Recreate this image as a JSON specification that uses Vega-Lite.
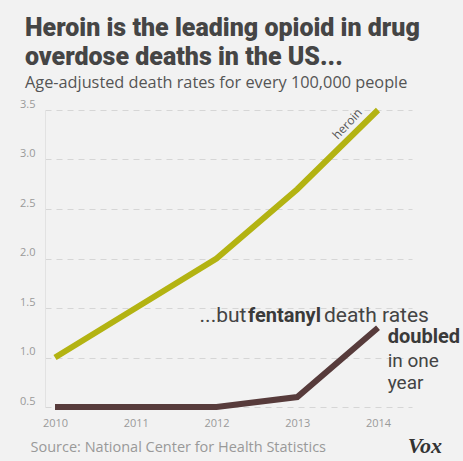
{
  "$schema": "https://vega.github.io/schema/vega-lite/v6.json",
  "width": 367,
  "height": 297,
  "autosize": "none",
  "padding": {"left": 45, "top": 110, "right": 51, "bottom": 54},
  "background": "#f2f2f2",
  "config": {"view": {"stroke": null}, "font": "Open Sans"},
  "title": {
    "text": ["Heroin is the leading opioid in drug", "overdose deaths in the US..."],
    "subtitle": "Age-adjusted death rates for every 100,000 people",
    "anchor": "start",
    "frame": "group",
    "dx": -20,
    "offset": 7,
    "font": "Roboto",
    "fontSize": 25,
    "fontWeight": 900,
    "color": "#454545",
    "lineHeight": 29,
    "subtitleFont": "Open Sans",
    "subtitleFontSize": 16.3,
    "subtitleFontWeight": 500,
    "subtitleColor": "#555555",
    "subtitlePadding": 5
  },
  "datasets": {
    "lines": [
      {"year": 2010, "rate": 1.0, "series": "heroin"},
      {"year": 2011, "rate": 1.5, "series": "heroin"},
      {"year": 2012, "rate": 2.0, "series": "heroin"},
      {"year": 2013, "rate": 2.7, "series": "heroin"},
      {"year": 2014, "rate": 3.5, "series": "heroin"},
      {"year": 2010, "rate": 0.5, "series": "fentanyl"},
      {"year": 2011, "rate": 0.5, "series": "fentanyl"},
      {"year": 2012, "rate": 0.5, "series": "fentanyl"},
      {"year": 2013, "rate": 0.6, "series": "fentanyl"},
      {"year": 2014, "rate": 1.3, "series": "fentanyl"}
    ],
    "topRegular": [
      {"label": "...but", "year": 2011.79, "rate": 1.354},
      {"label": "death rates", "year": 2013.33, "rate": 1.354}
    ],
    "topBold": [
      {"label": "fentanyl", "year": 2012.39, "rate": 1.354}
    ],
    "sideRegular": [
      {"label": "in one", "year": 2014.12, "rate": 0.905},
      {"label": "year", "year": 2014.12, "rate": 0.685}
    ],
    "sideBold": [
      {"label": "doubled", "year": 2014.12, "rate": 1.15}
    ],
    "seriesLabel": [
      {"label": "heroin", "year": 2013.62, "rate": 3.36}
    ],
    "logo": [
      {"label": "Vox", "year": 2014.58, "rate": 0.106}
    ]
  },
  "layer": [
    {
      "data": {"name": "lines"},
      "mark": {"type": "line", "strokeWidth": 6, "clip": false},
      "encoding": {
        "x": {
          "field": "year", "type": "quantitative",
          "scale": {"domain": [2009.876, 2014.421], "nice": false, "zero": false},
          "axis": {
            "values": [2010, 2011, 2012, 2013, 2014], "format": "d",
            "grid": false, "domain": false, "ticks": false,
            "labelColor": "#9a9a9a", "labelFontSize": 11, "labelPadding": 10,
            "labelFont": "Open Sans",
            "title": "Source: National Center for Health Statistics",
            "titleAnchor": "start", "titleX": -15, "titleY": 44,
            "titleBaseline": "alphabetic", "titleFont": "Open Sans",
            "titleFontSize": 14.5, "titleFontWeight": "normal", "titleColor": "#999999"
          }
        },
        "y": {
          "field": "rate", "type": "quantitative",
          "scale": {"domain": [0.5, 3.5], "nice": false, "zero": false},
          "axis": {
            "values": [0.5, 1.0, 1.5, 2.0, 2.5, 3.0, 3.5], "format": ".1f",
            "grid": true, "gridDash": [6, 5], "gridColor": "#d6d6d6",
            "domain": true, "domainColor": "#e2e2e2", "ticks": false,
            "labelColor": "#9a9a9a", "labelFontSize": 11, "labelPadding": 10,
            "labelFont": "Open Sans", "labelBaseline": "bottom", "labelOffset": -1,
            "title": null
          }
        },
        "color": {
          "field": "series", "type": "nominal",
          "scale": {"domain": ["heroin", "fentanyl"], "range": ["#b3b312", "#573b3b"]},
          "legend": null
        }
      }
    },
    {
      "data": {"name": "topRegular"},
      "mark": {"type": "text", "align": "left", "baseline": "alphabetic", "fontSize": 21, "color": "#444444", "font": "Roboto", "clip": false},
      "encoding": {
        "x": {"field": "year", "type": "quantitative"},
        "y": {"field": "rate", "type": "quantitative"},
        "text": {"field": "label"}
      }
    },
    {
      "data": {"name": "topBold"},
      "mark": {"type": "text", "align": "left", "baseline": "alphabetic", "fontSize": 20, "fontWeight": "bold", "color": "#3a3a3a", "font": "Roboto", "clip": false},
      "encoding": {
        "x": {"field": "year", "type": "quantitative"},
        "y": {"field": "rate", "type": "quantitative"},
        "text": {"field": "label"}
      }
    },
    {
      "data": {"name": "sideRegular"},
      "mark": {"type": "text", "align": "left", "baseline": "alphabetic", "fontSize": 19, "color": "#444444", "font": "Roboto", "clip": false},
      "encoding": {
        "x": {"field": "year", "type": "quantitative"},
        "y": {"field": "rate", "type": "quantitative"},
        "text": {"field": "label"}
      }
    },
    {
      "data": {"name": "sideBold"},
      "mark": {"type": "text", "align": "left", "baseline": "alphabetic", "fontSize": 20, "fontWeight": "bold", "color": "#3a3a3a", "font": "Roboto", "clip": false},
      "encoding": {
        "x": {"field": "year", "type": "quantitative"},
        "y": {"field": "rate", "type": "quantitative"},
        "text": {"field": "label"}
      }
    },
    {
      "data": {"name": "seriesLabel"},
      "mark": {"type": "text", "align": "center", "baseline": "middle", "fontSize": 12, "angle": -47, "color": "#555555", "font": "Open Sans"},
      "encoding": {
        "x": {"field": "year", "type": "quantitative"},
        "y": {"field": "rate", "type": "quantitative"},
        "text": {"field": "label"}
      }
    },
    {
      "data": {"name": "logo"},
      "mark": {"type": "text", "align": "center", "baseline": "middle", "fontSize": 22, "fontWeight": "bold", "fontStyle": "italic", "font": "Liberation Serif", "color": "#333333", "clip": false},
      "encoding": {
        "x": {"field": "year", "type": "quantitative"},
        "y": {"field": "rate", "type": "quantitative"},
        "text": {"field": "label"}
      }
    }
  ]
}
